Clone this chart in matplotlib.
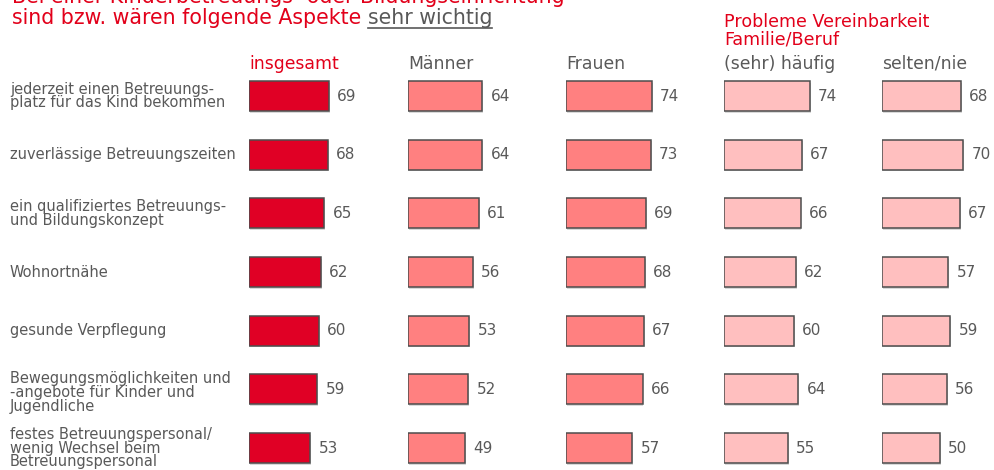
import matplotlib.pyplot as plt

# data
aspects = [
    "jederzeit einen Betreuungs-\nplatz für das Kind bekommen",
    "zuverlässige Betreuungszeiten",
    "ein qualifiziertes Betreuungs-\nund Bildungskonzept",
    "Wohnortnähe",
    "gesunde Verpflegung",
    "Bewegungsmöglichkeiten und\n-angebote für Kinder und\nJugendliche",
    "festes Betreuungspersonal/\nwenig Wechsel beim\nBetreuungspersonal",
]
groups = ["insgesamt", "Männer", "Frauen", "(sehr) häufig", "selten/nie"]
insgesamt = [69, 68, 65, 62, 60, 59, 53]
maenner = [64, 64, 61, 56, 53, 52, 49]
frauen = [74, 73, 69, 68, 67, 66, 57]
haeufig = [74, 67, 66, 62, 60, 64, 55]
selten = [68, 70, 67, 57, 59, 56, 50]

RED = "#E2001A"
GREY = "#595959"
fills = ["#E00025", "#FF8080", "#FF8080", "#FFBFBF", "#FFBFBF"]
head_colors = [RED, GREY, GREY, GREY, GREY]
series = [insgesamt, maenner, frauen, haeufig, selten]

W, H = 994, 470
fig = plt.figure(figsize=(W / 100, H / 100), dpi=100)
fig.patch.set_facecolor("white")

col_left = [249, 408, 566, 724, 882]
px_per_unit = 1.16
row0, row_step = 96, 58.67
ax_w = 100

for j, vals in enumerate(series):
    ax = fig.add_axes([col_left[j] / W, 0, ax_w / W, 1])
    ax.set_xlim(0, ax_w / px_per_unit)
    ax.set_ylim((H - row0) / row_step, -row0 / row_step)
    ax.axis("off")
    ys = list(range(len(vals)))
    # faint shadow
    ax.barh([y + 0.03 for y in ys], vals, height=0.51, left=0.8,
            color="#d9d9d9", edgecolor="none", zorder=1)
    ax.barh(ys, vals, height=0.51, color=fills[j], edgecolor="#4d4d4d",
            linewidth=1.1, zorder=2)
    for y, v in zip(ys, vals):
        ax.annotate(str(v), (v, y), xytext=(6, 0), textcoords="offset points",
                    va="center", ha="left", fontsize=11, color=GREY,
                    annotation_clip=False)
    fig.text(col_left[j] / W, 1 - 69 / H, groups[j], fontsize=12.4,
             color=head_colors[j], va="baseline", ha="left")

# row labels
for i, lab in enumerate(aspects):
    shift = 3 if i == 5 else 0
    fig.text(10 / W, 1 - (row0 + i * row_step + shift) / H, lab, fontsize=10.5,
             color=GREY, va="center", ha="left", linespacing=0.9)

# title
fig.text(12 / W, 1 - 3 / H, "Bei einer Kinderbetreuungs- oder Bildungseinrichtung",
         fontsize=14.8, color=RED, va="baseline", ha="left")
t1 = fig.text(12 / W, 1 - 24 / H, "sind bzw. wären folgende Aspekte ",
              fontsize=14.8, color=RED, va="baseline", ha="left")
fig.canvas.draw()
r = fig.canvas.get_renderer()
bb = t1.get_window_extent(r)
t2 = fig.text(bb.x1 / W, 1 - 24 / H, "sehr wichtig", fontsize=14.8,
              color=GREY, va="baseline", ha="left")
bb2 = t2.get_window_extent(r)
fig.add_artist(plt.Line2D([bb2.x0 / W, bb2.x1 / W], [1 - 28 / H, 1 - 28 / H],
                          color=GREY, linewidth=1.2))

fig.text(724 / W, 1 - 44 / H, "Probleme Vereinbarkeit\nFamilie/Beruf",
         fontsize=12.6, color=RED, va="baseline", ha="left", linespacing=0.95)

fig.savefig("out.png", dpi=100)
